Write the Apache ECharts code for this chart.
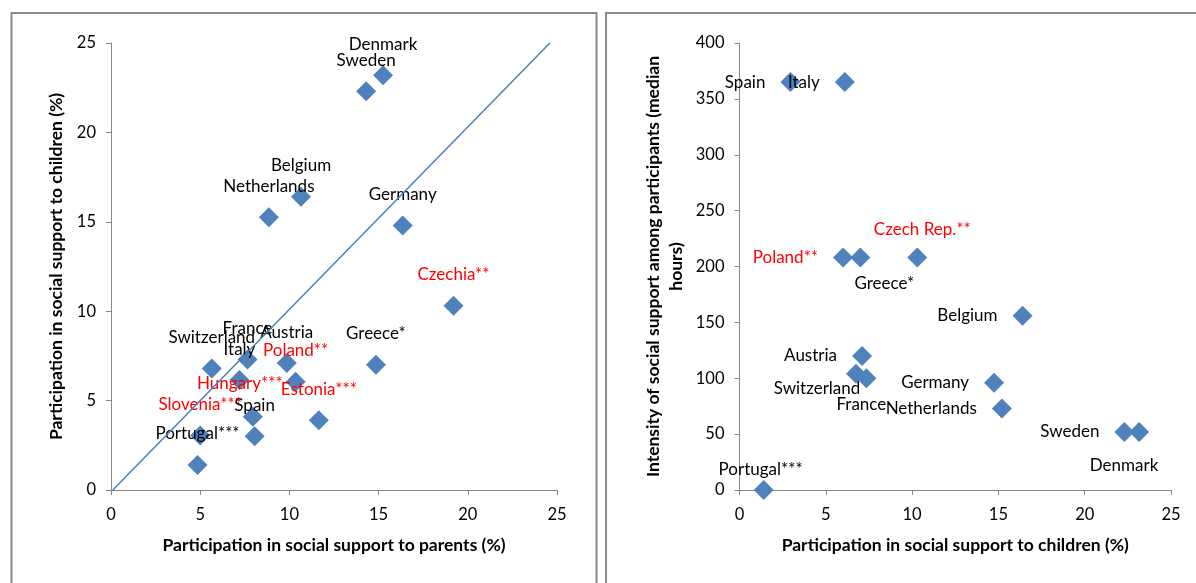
<!DOCTYPE html>
<html>
<head>
<meta charset="utf-8">
<script src="https://cdn.jsdelivr.net/npm/echarts@6/dist/echarts.min.js"></script>
<style>
html,body{margin:0;padding:0;background:#fff;}
#chart{width:1196px;height:583px;}
</style>
</head>
<body>
<div id="chart"></div>
<script>
// ---- Left chart data ----
const leftCountries = ['Denmark','Sweden','Belgium','Netherlands','Germany','Czechia**','Greece*','Switzerland','France','Austria','Italy','Poland**','Hungary***','Estonia***','Spain','Slovenia***','Portugal***'];
const supportParents = [15.25,14.3,10.65,8.85,16.35,19.2,14.85,5.65,7.65,9.85,7.2,10.35,7.95,11.65,8.05,5.0,4.85];
const supportChildren = [23.2,22.3,16.4,15.25,14.8,10.3,7.0,6.8,7.3,7.1,6.15,6.05,4.1,3.9,3.0,3.05,1.4];
const diagonalLine = [[0.1,0],[24.6,25]];

// ---- Right chart data ----
const rightCountries = ['Spain','Italy','Poland**','Greece*','Czech Rep.**','Belgium','Austria','Switzerland','France','Germany','Netherlands','Sweden','Denmark','Portugal***'];
const rightChildren = [2.95,6.1,6.0,7.0,10.3,16.4,7.1,6.75,7.35,14.75,15.2,22.3,23.15,1.4];
const medianHours = [365,365,208,208,208,156,120,104,100,96,73,52,52,0];

const axisTicks = [0,5,10,15,20,25];
const hourTicks = [0,50,100,150,200,250,300,350,400];

// ---- styling ----
const FONT = 'Lato, "Open Sans", sans-serif';
const RED = ['Czechia**','Poland**','Hungary***','Estonia***','Slovenia***','Czech Rep.**'];
const BLUE = '#4F81BD';
const AXIS_GRAY = '#868686';

const leftLabelOffsets = {'Hungary***':[-13,-33]};
const rightLabelPlace = {
  'Greece*':{position:'inside',offset:[24,26]},
  'Czech Rep.**':{position:'inside',offset:[5,-28]},
  'Switzerland':{position:'inside',offset:[-39,15]},
  'France':{position:'inside',offset:[-5,26]},
  'Denmark':{position:'inside',offset:[-15,34]},
  'Portugal***':{position:'inside',offset:[-3,-20]}
};

function labelColor(n){ return RED.indexOf(n) >= 0 ? '#FF0000' : '#000000'; }

const leftData = leftCountries.map((n,i)=>({
  name:n, value:[supportParents[i], supportChildren[i]],
  label:{show:true, formatter:n, position:'inside', offset: leftLabelOffsets[n] || [0,-31],
         color:labelColor(n), fontFamily:FONT, fontSize:17}
}));
const rightData = rightCountries.map((n,i)=>{
  const p = rightLabelPlace[n] || {position:'left', distance:15};
  return {
    name:n, value:[rightChildren[i], medianHours[i]],
    label:Object.assign({show:true, formatter:n, color:labelColor(n), fontFamily:FONT, fontSize:17}, p)
  };
});

function valueAxis(gridIndex, max, interval, name, nameGap, labelMargin){
  return {
    type:'value', gridIndex:gridIndex, min:0, max:max, interval:interval,
    name:name, nameLocation:'middle', nameGap:nameGap,
    nameTextStyle:{fontFamily:FONT, fontSize:17.5, fontWeight:'bold', color:'#000', lineHeight:23},
    axisLine:{show:true, lineStyle:{color:AXIS_GRAY, width:1}},
    axisTick:{show:true, length:5, lineStyle:{color:AXIS_GRAY}},
    axisLabel:{fontFamily:FONT, fontSize:16.5, color:'#000', margin:labelMargin},
    splitLine:{show:false}
  };
}

const chart = echarts.init(document.getElementById('chart'), null, {renderer:'canvas'});
chart.setOption({
  backgroundColor:'#fff',
  animation:false,
  graphic:[
    {type:'rect', shape:{x:11.5, y:13, width:585, height:600}, style:{fill:'none', stroke:'#8a8a8a', lineWidth:2}, silent:true},
    {type:'rect', shape:{x:606, y:13, width:620, height:600}, style:{fill:'none', stroke:'#8a8a8a', lineWidth:2}, silent:true}
  ],
  grid:[
    {left:111, top:43, width:446, height:447},
    {left:739.5, top:43, width:431.5, height:447}
  ],
  xAxis:[
    valueAxis(0, 25, 5, 'Participation in social support to parents (%)', 44, 16),
    valueAxis(1, 25, 5, 'Participation in social support to children (%)', 44, 16)
  ],
  yAxis:[
    valueAxis(0, 25, 5, 'Participation in social support to children (%)', 43, 15),
    valueAxis(1, 400, 50, 'Intensity of social support among participants (median\nhours)', 52, 15)
  ],
  series:[
    {type:'scatter', xAxisIndex:0, yAxisIndex:0, symbol:'diamond', symbolSize:20,
     itemStyle:{color:BLUE, opacity:1}, data:leftData, z:2},
    {type:'line', xAxisIndex:0, yAxisIndex:0, data:diagonalLine, symbol:'none',
     lineStyle:{color:'#4A7EBB', width:1.5}, z:3, silent:true},
    {type:'scatter', xAxisIndex:1, yAxisIndex:1, symbol:'diamond', symbolSize:20,
     itemStyle:{color:BLUE, opacity:1}, data:rightData, z:2}
  ]
});
</script>
</body>
</html>
